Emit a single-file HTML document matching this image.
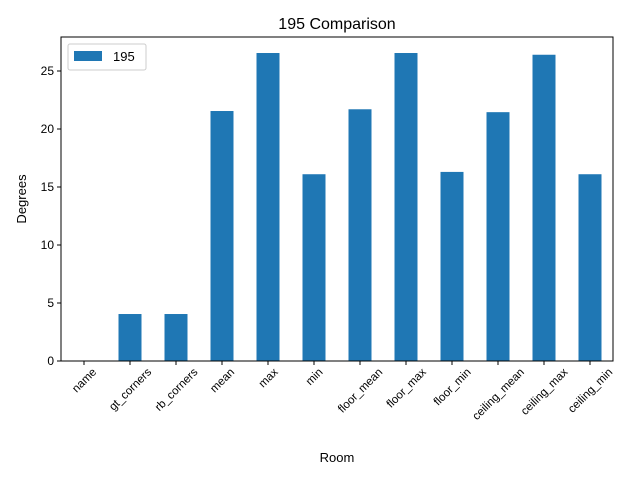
<!DOCTYPE html>
<html><head><meta charset="utf-8"><style>body{margin:0;background:#fff}svg{font-family:"Liberation Sans","DejaVu Sans",sans-serif}</style></head>
<body>
<svg id="c" width="640" height="480">
<rect x="0" y="0" width="640" height="480" fill="#fff"/>
<text x="337" y="29" text-anchor="middle" font-size="16">195 Comparison</text>
<g id="bars"></g><g id="yt"></g><g id="xt"></g>
<rect x="61" y="37" width="552" height="324" fill="none" stroke="#000" stroke-width="1"/>
<text x="337" y="462" text-anchor="middle" font-size="13">Room</text>
<text transform="translate(26,199) rotate(-90)" text-anchor="middle" font-size="13">Degrees</text>
<g>
<rect x="68" y="44" width="78" height="26" rx="2" fill="#fff" stroke="#ccc"/>
<rect x="74" y="51" width="28" height="10" fill="#1f77b4"/>
<text x="113" y="61" font-size="13">195</text>
</g>
</svg>
<script>
const categories=["name","gt_corners","rb_corners","mean","max","min","floor_mean","floor_max","floor_min","ceiling_mean","ceiling_max","ceiling_min"];
const values=[0,4.05,4.05,21.55,26.55,16.1,21.7,26.55,16.3,21.45,26.4,16.1];
const yTicks=[0,5,10,15,20,25];
const NS="http://www.w3.org/2000/svg";
const L=61,R=613,T=37,B=361,yMax=27.93;
const ys=v=>B-(v/yMax)*(B-T);
const step=(R-L)/categories.length;
const xs=i=>L+step*(i+0.5);
const bars=document.getElementById('bars'),yt=document.getElementById('yt'),xt=document.getElementById('xt');
function mk(t,a,p){const e=document.createElementNS(NS,t);for(const k in a)e.setAttribute(k,a[k]);p.appendChild(e);return e;}
values.forEach((v,i)=>{
 const r=mk('rect',{x:xs(i)-step/4,y:ys(v),width:step/2,height:B-ys(v),fill:'#1f77b4'},bars);
 
 
});
yTicks.forEach(t=>{
 const y=ys(t);
 mk('line',{x1:L-4,x2:L,y1:y,y2:y,stroke:'#000'},yt);
 const tx=mk('text',{x:L-7,y:y+4,'text-anchor':'end','font-size':12},yt);
 tx.textContent=t;
 
 
});
categories.forEach((c,i)=>{
 const x=xs(i);
 mk('line',{x1:x,x2:x,y1:B,y2:B+4,stroke:'#000'},xt);
 const tx=mk('text',{'text-anchor':'middle','font-size':11.5},xt);
 tx.textContent=c;
 
 
 const w=tx.getComputedTextLength(),h=11;
 const rh=(w+h)*0.7071;
 const cy=B+5+rh/2;
 tx.setAttribute('transform',`translate(${x},${cy}) rotate(-45) translate(0,4)`);
});
</script>
</body></html>
